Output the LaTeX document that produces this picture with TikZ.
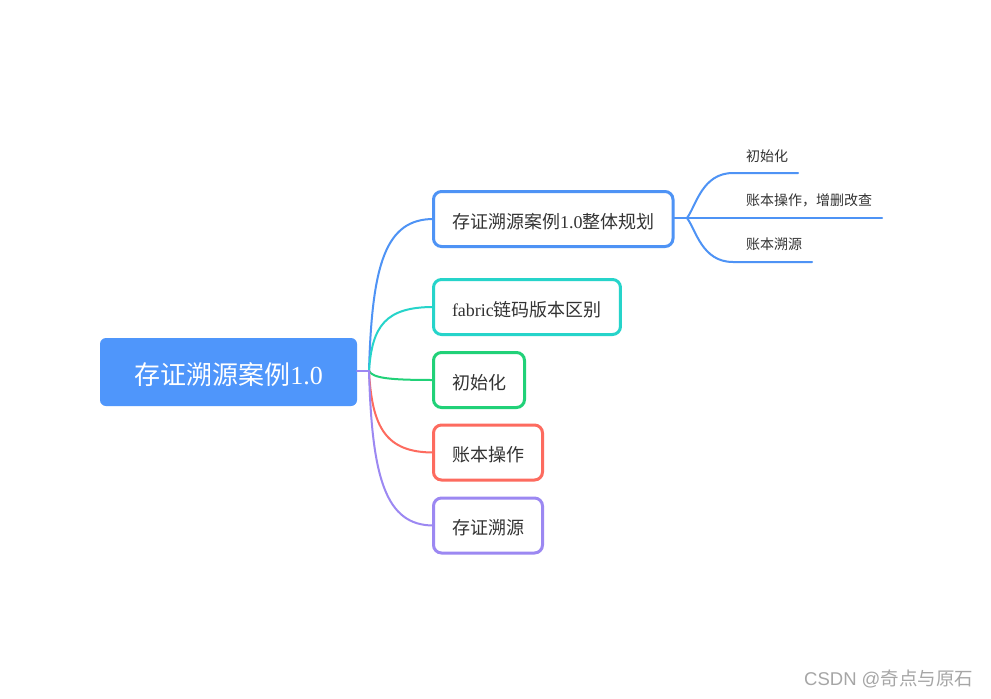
\documentclass[tikz,border=0pt]{standalone}
\usepackage{fontspec}
\setmainfont{Liberation Serif}
\newfontfamily\cjk{Noto Sans CJK SC}
\newfontfamily\wmsans{Liberation Sans}
\definecolor{rootblue}{HTML}{4F96FB}
\definecolor{cblue}{HTML}{4E93F5}
\definecolor{ccyan}{HTML}{26D4CA}
\definecolor{cgreen}{HTML}{21D178}
\definecolor{cred}{HTML}{FD6B5F}
\definecolor{cpurple}{HTML}{9C88F2}
\definecolor{txt}{HTML}{333333}
\definecolor{wmgray}{HTML}{A6A6A6}
\tikzset{
  rootbox/.style={fill=rootblue, rounded corners=6pt, minimum width=257pt, minimum height=68pt,
    text=white, font=\fontsize{26pt}{30pt}\selectfont, inner sep=0pt, outer sep=0pt,
    text height=25.2pt, text depth=0pt},
  childbox/.style={draw, fill=white, line width=3pt, rounded corners=8pt, minimum height=55pt,
    inner xsep=18.5pt, inner ysep=0pt, outer sep=0pt, anchor=west, text=txt,
    font=\fontsize{18pt}{22pt}\selectfont, text height=18.2pt, text depth=0pt},
  sublabel/.style={anchor=west, inner sep=0pt, text=txt, font=\fontsize{14pt}{17pt}\selectfont\cjk},
  branch/.style={line width=2pt, line cap=round},
  subbranch/.style={line width=2pt, draw=cblue, line cap=round},
}
\begin{document}
\begin{tikzpicture}[x=1pt,y=-1pt]
\useasboundingbox (0,0) rectangle (991,699);
\fill[white] (0,0) rectangle (991,699);

% root
\node[rootbox] (root) at (228.5,372) {{\cjk 存证溯源案例}1.0};

% children
\node[childbox, draw=cblue]   (c1) at (433.5,219)   {{\cjk 存证溯源案例}1.0{\cjk 整体规划}};
\node[childbox, draw=ccyan]   (c2) at (433.5,307)   {fabric{\cjk 链码版本区别}};
\node[childbox, draw=cgreen]  (c3) at (433.5,380)   {{\cjk 初始化}};
\node[childbox, draw=cred]    (c4) at (433.5,452.5) {{\cjk 账本操作}};
\node[childbox, draw=cpurple] (c5) at (433.5,525.5) {{\cjk 存证溯源}};

% main connectors
\coordinate (b) at (369,371);
\draw[branch, cblue]   (b) .. controls +(3,-107) and +(-48,0) .. (c1.west);
\draw[branch, ccyan]   (b) .. controls +(3,-45)  and +(-48,0) .. (c2.west);
\draw[branch, cgreen]  (b) .. controls +(4,7)    and +(-45,0) .. (c3.west);
\draw[branch, cred]    (b) .. controls +(3,56)   and +(-48,0) .. (c4.west);
\draw[branch, cpurple] (b) .. controls +(3,107)  and +(-48,0) .. (c5.west);
\draw[branch, cpurple] (root.east |- b) -- (b);

% sub-branch labels
\node[sublabel] (s1) at (746,156) {初始化};
\node[sublabel] (s2) at (746,200) {账本操作，增删改查};
\node[sublabel] (s3) at (746,244) {账本溯源};

% sub-branch connectors
\coordinate (sb) at (687,218);
\coordinate (k1) at (733,173);
\coordinate (k1e) at (798,173);
\coordinate (k2e) at (882,218);
\coordinate (k3) at (733,262);
\coordinate (k3e) at (812,262);
\draw[subbranch] (c1.east |- sb) -- (k2e);
\draw[subbranch] (sb) .. controls (696,206) and (702,173) .. (k1) -- (k1e);
\draw[subbranch] (sb) .. controls (696,230) and (702,262) .. (k3) -- (k3e);

% watermark
\node[anchor=west, inner sep=0pt, text=wmgray, font=\fontsize{18.5pt}{22pt}\selectfont] (wm) at (804,679)
  {{\wmsans CSDN @}{\cjk 奇点与原石}};
\end{tikzpicture}
\end{document}
